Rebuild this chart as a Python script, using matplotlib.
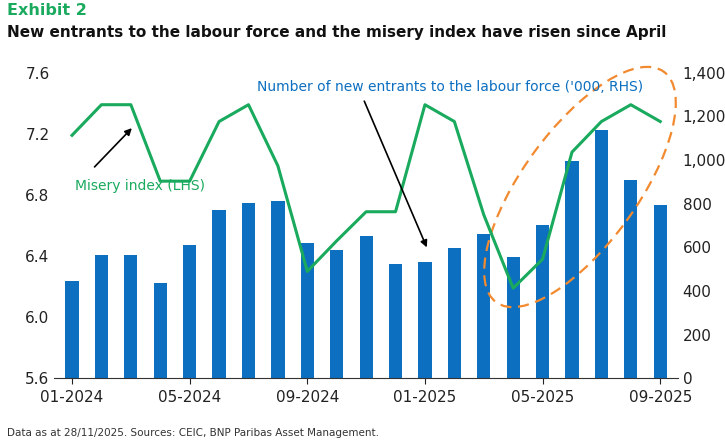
import numpy as np
import matplotlib.pyplot as plt
from matplotlib.patches import Ellipse

months = ["01-2024", "02-2024", "03-2024", "04-2024", "05-2024", "06-2024", "07-2024",
          "08-2024", "09-2024", "10-2024", "11-2024", "12-2024", "01-2025", "02-2025",
          "03-2025", "04-2025", "05-2025", "06-2025", "07-2025", "08-2025", "09-2025"]
new_entrants = [444, 563, 567, 439, 613, 773, 801, 810, 618, 586, 654, 526, 535, 595,
                663, 558, 700, 997, 1135, 910, 792]
misery = [7.19, 7.39, 7.39, 6.89, 6.89, 7.28, 7.39, 6.99, 6.30, 6.50, 6.69, 6.69, 7.39,
          7.28, 6.67, 6.19, 6.38, 7.08, 7.28, 7.39, 7.28]

green = "#1aaa5e"
blue = "#0c6fc0"
x = np.arange(len(months))

fig = plt.figure(figsize=(7.25, 4.4), dpi=100)
ax = fig.add_axes([0.075, 0.14, 0.86, 0.695])
ax2 = ax.twinx()
ax.set_zorder(ax2.get_zorder() + 1)
ax.patch.set_visible(False)

ax2.bar(x, new_entrants, width=0.45, color=blue)
ax.plot(x, misery, color=green, lw=2.2)

ax.set_ylim(5.6, 7.6)
ax.set_yticks([5.6, 6.0, 6.4, 6.8, 7.2, 7.6])
ax2.set_ylim(0, 1400)
ax2.set_yticks(range(0, 1401, 200))
ax2.set_yticklabels([f"{v:,}" for v in range(0, 1401, 200)])
ax.set_xlim(-0.6, len(months) - 0.4)
ax.set_xticks(x[::4])
ax.set_xticklabels(months[::4])
for a in (ax, ax2):
    for s in a.spines.values():
        s.set_visible(False)
    a.tick_params(length=0, labelsize=11, colors="#222222")
ax.spines["bottom"].set_visible(True)
ax.spines["bottom"].set_color("#333333")
ax.tick_params(axis="x", length=4, pad=4)

fig.text(0.01, 0.965, "Exhibit 2", color=green, fontsize=11.5, fontweight="bold")
fig.text(0.01, 0.915, "New entrants to the labour force and the misery index have risen since April",
         color="#111111", fontsize=11, fontweight="bold")
fig.text(0.01, 0.01, "Data as at 28/11/2025. Sources: CEIC, BNP Paribas Asset Management.",
         fontsize=7.5, color="#333333")

ax.text(0.1, 6.83, "Misery index (LHS)", color=green, fontsize=10)
ax.annotate("", xy=(2.1, 7.25), xytext=(0.7, 6.97),
            arrowprops=dict(arrowstyle="-|>", color="black", lw=1.2))
ax.text(6.3, 7.48, "Number of new entrants to the labour force ('000, RHS)", color=blue, fontsize=10)
ax.annotate("", xy=(12.1, 6.44), xytext=(9.9, 7.43),
            arrowprops=dict(arrowstyle="-|>", color="black", lw=1.2))

ell = Ellipse((580, 253), width=285, height=115, angle=54, fill=False,
              ls=(0, (5, 3)), lw=1.6, color="#f28a30", transform=None, clip_on=False)
fig.add_artist(ell)

plt.savefig("out.png")
